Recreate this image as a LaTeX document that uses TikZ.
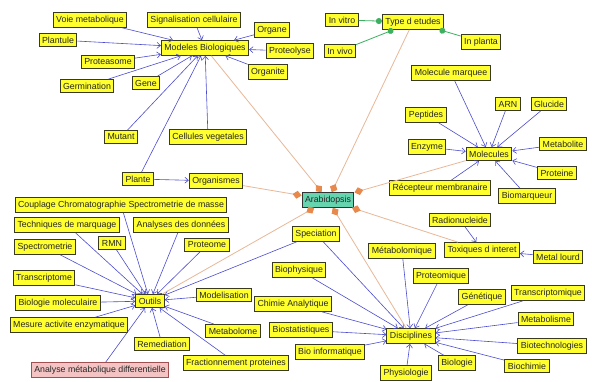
\documentclass[tikz,border=0pt]{standalone}
\usepackage{fontspec}
\setmainfont{Liberation Sans}
\usetikzlibrary{arrows.meta}
\definecolor{boxy}{HTML}{FFFF2E}
\definecolor{boxline}{HTML}{3A3A20}
\definecolor{arabfill}{HTML}{66D4AE}
\definecolor{pinkfill}{HTML}{F4C4C4}
\definecolor{pinkline}{HTML}{A05050}
\definecolor{edgeblue}{HTML}{4C4CD0}
\definecolor{edgetan}{HTML}{E8B898}
\definecolor{tipor}{HTML}{E8884A}
\definecolor{edgegreen}{HTML}{3CB060}
\begin{document}
\begin{tikzpicture}[x=1pt,y=-1pt,
  box/.style={draw=boxline, line width=1pt, fill=boxy, font=\fontsize{8.8}{9}\selectfont,
    inner xsep=3pt, inner ysep=3.2pt, text=black!85},
  arabbox/.style={box, fill=arabfill, draw=black!80},
  pinkbox/.style={box, fill=pinkfill, draw=pinkline},
  bl/.style={draw=edgeblue, line width=0.6pt, -{Straight Barb[length=3.5pt,width=6pt]}},
  tan/.style={draw=edgetan, line width=0.8pt, -{Diamond[length=9pt,width=8pt,fill=tipor,color=tipor]}},
  grn/.style={draw=edgegreen, line width=0.8pt, -{Circle[length=6pt,fill=edgegreen,color=edgegreen]}}
]
\useasboundingbox (0,0) rectangle (592,381);
\fill[white] (0,0) rectangle (592,381);

% Modeles Biologiques cluster
\node[box] (vm) at (90,20) {Voie metabolique};
\node[box] (sc) at (194,20) {Signalisation cellulaire};
\node[box] (pl) at (58,40) {Plantule};
\node[box] (mb) at (205,48) {Modeles Biologiques};
\node[box] (og) at (272,30) {Organe};
\node[box] (pt) at (290,51) {Proteolyse};
\node[box] (ps) at (108,62) {Proteasome};
\node[box] (oi) at (268,72) {Organite};
\node[box] (ge) at (87,86) {Germination};
\node[box] (gn) at (146,83) {Gene};
\node[box] (mu) at (121,137) {Mutant};
\node[box] (cv) at (208,137) {Cellules vegetales};
\node[box] (pa) at (138,179) {Plante};
\node[box] (os) at (216,181) {Organismes};

% Type d etudes
\node[box] (iv) at (342,20) {In vitro};
\node[box] (te) at (413,22) {Type d etudes};
\node[box] (vv) at (340,51) {In vivo};
\node[box] (ip) at (481,42) {In planta};

% Molecules
\node[box] (mm) at (451,73) {Molecule marquee};
\node[box] (arn) at (508,104) {ARN};
\node[box] (gl) at (549,104) {Glucide};
\node[box] (pe) at (426,115) {Peptides};
\node[box] (me) at (563,144) {Metabolite};
\node[box] (en) at (427,147) {Enzyme};
\node[box] (mo) at (489,154) {Molecules};
\node[box] (pr) at (557,173) {Proteine};
\node[box] (rm) at (440,188) {Récepteur membranaire};
\node[box] (bm) at (527,196) {Biomarqueur};

% center
\node[arabbox] (ar) at (328,200) {Arabidopsis};

% Toxiques
\node[box] (rn) at (460,220) {Radionucleide};
\node[box] (tx) at (482,250) {Toxiques d interet};
\node[box] (ml) at (558,257) {Metal lourd};

% Disciplines
\node[box] (sp) at (316,234) {Speciation};
\node[box] (mq) at (402,251) {Métabolomique};
\node[box] (bp) at (299,270) {Biophysique};
\node[box] (pq) at (441,276) {Proteomique};
\node[box] (ca) at (293,304) {Chimie Analytique};
\node[box] (gq) at (482,297) {Génétique};
\node[box] (tq) at (548,293) {Transcriptomique};
\node[box] (mt) at (546,319) {Metabolisme};
\node[box] (di) at (411,336) {Disciplines};
\node[box] (bs) at (301,330) {Biostatistiques};
\node[box] (bi) at (330,352) {Bio informatique};
\node[box] (bt) at (552,346) {Biotechnologies};
\node[box] (bo) at (457,363) {Biologie};
\node[box] (bc) at (527,366) {Biochimie};
\node[box] (ph) at (406,373) {Physiologie};

% Outils
\node[box] (cp) at (121,205) {Couplage Chromatographie Spectrometrie de masse};
\node[box] (tm) at (67,225) {Techniques de marquage};
\node[box] (ad) at (181,225) {Analyses des données};
\node[box] (rmn) at (112,243) {RMN};
\node[box] (pm) at (207,245) {Proteome};
\node[box] (sm) at (45,247) {Spectrometrie};
\node[box] (tc) at (44,278) {Transcriptome};
\node[box] (ou) at (150,301) {Outils};
\node[box] (md) at (224,295) {Modelisation};
\node[box] (bmo) at (58,303) {Biologie moleculaire};
\node[box] (mae) at (69,325) {Mesure activite enzymatique};
\node[box] (mbl) at (233,331) {Metabolome};
\node[box] (re) at (162,344) {Remediation};
\node[box] (fp) at (236,363) {Fractionnement proteines};
\node[pinkbox] (amd) at (100,370) {Analyse métabolique differentielle};

% edges
\foreach \s in {vm,sc,pl,og,pt,ps,oi,ge,gn,mu,cv,pa} \draw[bl] (\s) -- (mb);
\draw[bl] (pa) -- (os);
\foreach \s in {mm,arn,gl,pe,me,en,pr,rm,bm} \draw[bl] (\s) -- (mo);
\foreach \s in {rn,ml} \draw[bl] (\s) -- (tx);
\foreach \s in {sp,mq,bp,pq,ca,gq,tq,mt,bs,bi,bt,bo,bc,ph} \draw[bl] (\s) -- (di);
\foreach \s in {cp,tm,ad,rmn,pm,sm,tc,md,bmo,mae,mbl,re,fp,amd,sp} \draw[bl] (\s) -- (ou);
\foreach \s in {mb,te,os,mo,tx,di,ou} \draw[tan] (\s) -- (ar);
\draw[grn] (iv) -- (te);
\draw[grn] (vv) -- (te);
\draw[grn] (ip) -- (te);
\end{tikzpicture}
\end{document}
